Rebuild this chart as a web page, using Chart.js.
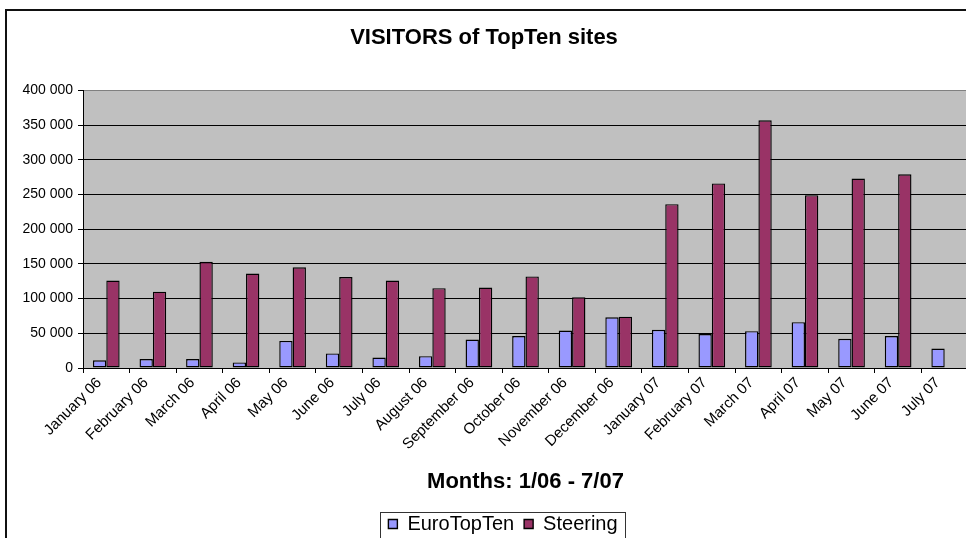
<!DOCTYPE html>
<html>
<head>
<meta charset="utf-8">
<script src="https://cdn.jsdelivr.net/npm/chart.js@4/dist/chart.umd.min.js"></script>
<style>
    html, body { margin: 0; padding: 0; background: #fff; overflow: hidden; }
    #wrap { width: 968px; height: 544px; }
</style>
</head>
<body>
<div id="wrap"><canvas id="visitorsChart" width="968" height="544"></canvas></div>
<script>
// Data
const months = ['January 06', 'February 06', 'March 06', 'April 06', 'May 06', 'June 06',
    'July 06', 'August 06', 'September 06', 'October 06', 'November 06', 'December 06',
    'January 07', 'February 07', 'March 07', 'April 07', 'May 07', 'June 07', 'July 07'];
const euroTopTen = [11000, 13000, 13000, 8000, 39000, 21000, 15000, 17000, 41000, 46000,
    54000, 73000, 55000, 49000, 53000, 66000, 42000, 46000, 28000];
const steering = [126000, 110000, 153000, 136000, 145000, 131000, 126000, 115000, 116000, 132000,
    102000, 74000, 236000, 266000, 357000, 249000, 273000, 279000, null];
const yTicks = [0, 50000, 100000, 150000, 200000, 250000, 300000, 350000, 400000];

const FONT = "'Liberation Sans', Arial, sans-serif";

function spaced(v) {
    return String(v).replace(/\B(?=(\d{3})+(?!\d))/g, ' ');
}

// Grey plot area + outer frame + box round the legend
const excelLook = {
    id: 'excelLook',
    afterLayout(chart) {
        // legend sits a little right of the canvas centre
        chart.legend.left += 19;
        chart.legend.right += 19;
    },
    beforeDraw(chart) {
        const { ctx, chartArea: a } = chart;
        ctx.save();
        ctx.fillStyle = '#C0C0C0';
        ctx.fillRect(a.left, a.top, a.right - a.left, a.bottom - a.top);
        ctx.strokeStyle = '#111';
        ctx.lineWidth = 2;
        ctx.beginPath();
        ctx.moveTo(6, 544);
        ctx.lineTo(6, 10);
        ctx.lineTo(968, 10);
        ctx.stroke();
        ctx.restore();
    },
    afterDraw(chart) {
        const boxes = chart.legend.legendHitBoxes;
        if (!boxes || !boxes.length) return;
        const first = boxes[0], last = boxes[boxes.length - 1];
        const ctx = chart.ctx;
        ctx.save();
        ctx.strokeStyle = '#333';
        ctx.lineWidth = 1;
        ctx.strokeRect(Math.round(first.left) - 7.5, Math.round(first.top) - 1.5,
            Math.round(last.left + last.width - first.left) + 16, 60);
        ctx.restore();
    }
};

new Chart(document.getElementById('visitorsChart'), {
    type: 'bar',
    data: {
        labels: months,
        datasets: [{
            label: 'EuroTopTen',
            data: euroTopTen,
            backgroundColor: '#9999FF',
            borderColor: '#000',
            borderWidth: 1.4,
            borderSkipped: false,
            categoryPercentage: 0.573,
            barPercentage: 1
        }, {
            label: 'Steering',
            data: steering,
            backgroundColor: '#993366',
            borderColor: '#000',
            borderWidth: 1.4,
            borderSkipped: false,
            categoryPercentage: 0.573,
            barPercentage: 1
        }]
    },
    options: {
        responsive: false,
        animation: false,
        devicePixelRatio: 1,
        layout: { padding: 0 },
        plugins: {
            title: {
                display: true,
                text: 'VISITORS of TopTen sites',
                color: '#000',
                font: { family: FONT, size: 22, weight: 'bold' },
                padding: { top: 25, bottom: 39 }
            },
            legend: {
                position: 'bottom',
                labels: {
                    color: '#000',
                    font: { family: FONT, size: 20 },
                    boxWidth: 9,
                    boxHeight: 9,
                    padding: 10
                }
            },
            tooltip: { enabled: false }
        },
        scales: {
            x: {
                grid: {
                    offset: true,
                    drawOnChartArea: false,
                    drawTicks: true,
                    tickLength: 5,
                    color: '#000'
                },
                border: { color: '#000', width: 1 },
                ticks: {
                    color: '#000',
                    font: { family: FONT, size: 15 },
                    minRotation: 45,
                    maxRotation: 45,
                    autoSkip: false,
                    padding: 1,
                    labelOffset: -7
                },
                title: {
                    display: true,
                    text: 'Months: 1/06 - 7/07',
                    color: '#000',
                    font: { family: FONT, size: 22, weight: 'bold' },
                    padding: { top: 0, bottom: 9 }
                },
                afterFit(scale) {
                    scale.height = 136;
                    scale.paddingLeft = 0;
                    scale.paddingRight = 0;
                }
            },
            y: {
                min: 0,
                max: 400000,
                afterBuildTicks(scale) {
                    scale.ticks = yTicks.map(v => ({ value: v }));
                },
                grid: {
                    color: ctx => (ctx.tick && ctx.tick.value === 400000) ? '#808080' : '#000',
                    tickColor: '#000',
                    tickLength: 5
                },
                border: { color: '#000', width: 1 },
                ticks: {
                    color: '#000',
                    font: { family: FONT, size: 14 },
                    padding: 5,
                    callback: v => spaced(v)
                },
                afterFit(scale) {
                    scale.width = 83;
                }
            }
        }
    },
    plugins: [excelLook]
});
</script>
</body>
</html>
